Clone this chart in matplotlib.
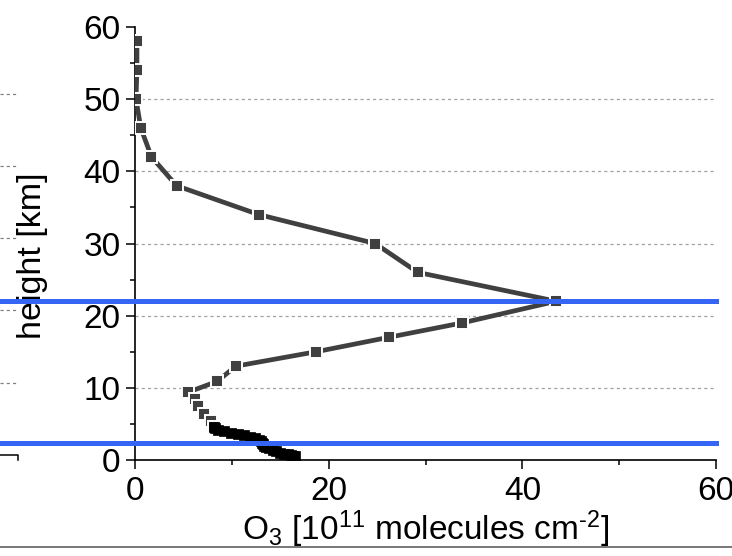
import matplotlib
matplotlib.use("Agg")
import matplotlib.pyplot as plt
from matplotlib.lines import Line2D
from matplotlib.ticker import MultipleLocator

plt.rcParams['font.family'] = ['Liberation Sans', 'DejaVu Sans']
plt.rcParams['mathtext.fontset'] = 'custom'
plt.rcParams['mathtext.rm'] = 'Liberation Sans'
plt.rcParams['mathtext.it'] = 'Liberation Sans:italic'

# ozone profile, upper part (dark grey squares)
height_upper = [58, 54, 50, 46, 42, 38, 34, 30, 26, 22, 19, 17, 15, 13, 10.9,
                9.4, 8.5, 7.5, 6.4, 5.4, 4.6]
o3_upper = [0.2, 0.2, 0.1, 0.6, 1.7, 4.3, 12.8, 24.8, 29.2, 43.5, 33.8, 26.2,
            18.7, 10.4, 8.5, 5.5, 6.2, 6.5, 7.1, 7.9, 8.2]

# boundary layer part (dense, black)
height_lower = [4.4, 4.2, 4.0, 3.8, 3.6, 3.4, 3.2, 3.0, 2.8, 2.6, 2.4, 2.2,
                2.0, 1.8, 1.6, 1.4, 1.2, 1.0, 0.9, 0.8, 0.7, 0.6, 0.5]
o3_lower = [8.3, 8.6, 9.2, 9.9, 10.6, 11.3, 11.9, 12.4, 12.8, 13.0, 13.1, 13.2,
            13.3, 13.5, 13.8, 14.2, 14.6, 15.0, 15.4, 15.8, 16.1, 16.3, 16.5]

# blue marker heights [km]
blue_heights = [22, 2.35]

x_ticks = [0, 20, 40, 60]
y_ticks = [0, 10, 20, 30, 40, 50, 60]
grid_heights = [10, 20, 30, 40, 50]

fig = plt.figure(figsize=(7.32, 5.56), dpi=100)
ax = fig.add_axes([135 / 732, 96 / 556, 581 / 732, 433 / 556])

for h in grid_heights:
    ax.axhline(h, color='#a0a0a0', lw=0.9, ls=(0, (2.5, 2.5)), zorder=1)

ax.plot(o3_upper, height_upper, color='#404040', lw=3.4, marker='s', ms=8.5,
        mfc='#404040', mec='white', mew=1.4, zorder=3)
ax.plot([o3_upper[-1]] + o3_lower, [height_upper[-1]] + height_lower,
        color='#000000', lw=3.4, marker='s', ms=7.5, mfc='#000000',
        mec='#000000', mew=0.5, zorder=3)

for h in blue_heights:
    ax.axhline(h, xmin=-135 / 581, xmax=1.0, color='#3565f5', lw=3.6,
               clip_on=False, zorder=4)

ax.set_xlim(0, 60)
ax.set_ylim(0, 60)
ax.set_xticks(x_ticks)
ax.set_yticks(y_ticks)
ax.xaxis.set_minor_locator(MultipleLocator(10))
ax.yaxis.set_minor_locator(MultipleLocator(5))
ax.tick_params(which='major', direction='out', length=6.5, width=1.1,
               labelsize=24, pad=5)
ax.tick_params(which='minor', direction='out', length=3.5, width=1.1)
ax.tick_params(axis='y', pad=4)

for s in ['top', 'right']:
    ax.spines[s].set_visible(False)
for s in ['left', 'bottom']:
    ax.spines[s].set_linewidth(1.2)

ax.set_ylabel('height [km]', fontsize=24.5)
ax.yaxis.set_label_coords(-0.15, 0.471)
ax.set_xlabel('O$_3$ [10$^{11}$ molecules cm$^{\u20102}$]', fontsize=24,
              va='top')
ax.xaxis.set_label_coords(0.5, -0.112)

# pieces of neighbouring panels visible in the crop
W, H = 732.0, 556.0
for yp in [94, 166, 238, 310, 383]:
    fig.add_artist(Line2D([0, 18 / W], [1 - yp / H] * 2, color='#808080',
                          lw=0.9, ls=(0, (2.5, 2.5))))
fig.add_artist(Line2D([0, 17.5 / W, 17.5 / W],
                      [1 - 455 / H, 1 - 455 / H, 1 - 460 / H],
                      color='black', lw=1.1))
fig.add_artist(Line2D([0, 1], [1 - 546.5 / H] * 2, color='#606060', lw=1.2))

fig.savefig('out.png', dpi=100)
